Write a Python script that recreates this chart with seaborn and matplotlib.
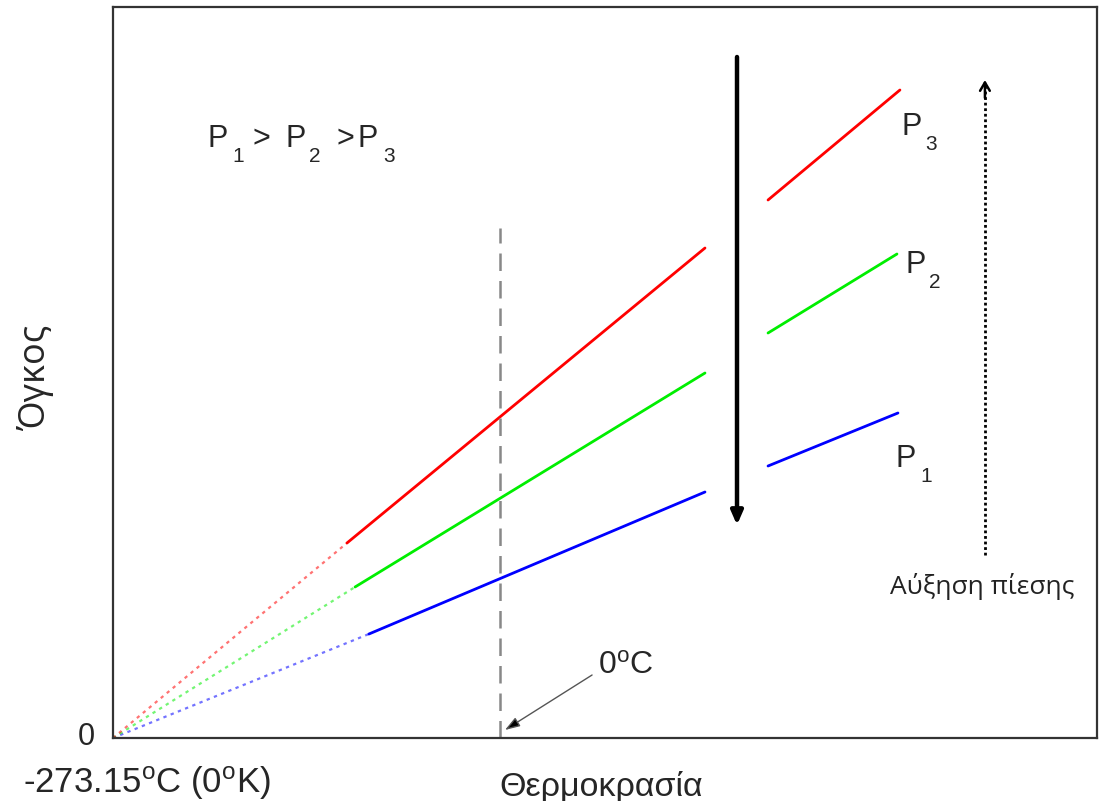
import matplotlib
matplotlib.use("Agg")
import matplotlib.pyplot as plt
import seaborn as sns
import pandas as pd

# ---- data (temperature in °C, volume in arbitrary units) ----
series = ["P1", "P2", "P3"]
colors = {"P1": "#0000ff", "P2": "#00ee00", "P3": "#ff0000"}
# dotted extrapolation: from absolute zero to start of measured range
T_extrap_end = {"P1": -92.5, "P2": -102.3, "P3": -108.0}
V_extrap_end = {"P1": 104, "P2": 151, "P3": 195}
# first solid segment
T_seg1 = {"P1": [-92.5, 144.7], "P2": [-102.3, 144.7], "P3": [-108.0, 144.7]}
V_seg1 = {"P1": [104, 246], "P2": [151, 365], "P3": [195, 490]}
# second solid segment
T_seg2 = {"P1": [189.2, 280.9], "P2": [189.2, 280.2], "P3": [189.2, 282.3]}
V_seg2 = {"P1": [272, 325], "P2": [405, 484], "P3": [538, 648]}
abs_zero = -273.15

sns.set_style("white")
plt.rcParams["font.family"] = ["Liberation Sans", "DejaVu Sans"]
plt.rcParams["mathtext.fontset"] = "custom"
plt.rcParams["mathtext.rm"] = "Liberation Sans"
plt.rcParams["mathtext.it"] = "Liberation Sans"

W, H = 1104, 801
fig = plt.figure(figsize=(W / 100, H / 100), dpi=100)
ax = fig.add_axes([113 / W, 63 / H, 984 / W, 731 / H])


def px(x, y):
    return x / W, 1 - y / H


rows = []
for s in series:
    rows.append(dict(s=s, seg="dot", T=abs_zero, V=0))
    rows.append(dict(s=s, seg="dot", T=T_extrap_end[s], V=V_extrap_end[s]))
    for t, v in zip(T_seg1[s], V_seg1[s]):
        rows.append(dict(s=s, seg="a", T=t, V=v))
    for t, v in zip(T_seg2[s], V_seg2[s]):
        rows.append(dict(s=s, seg="b", T=t, V=v))
df = pd.DataFrame(rows)

for s in series:
    d = df[(df.s == s) & (df.seg == "dot")]
    sns.lineplot(data=d, x="T", y="V", color=colors[s], lw=1.6, ls=(0, (1.5, 2.0)),
                 alpha=0.55, ax=ax, legend=False, estimator=None, sort=False)
    for seg in ["a", "b"]:
        d = df[(df.s == s) & (df.seg == seg)]
        sns.lineplot(data=d, x="T", y="V", color=colors[s], lw=2.0,
                     ax=ax, legend=False, estimator=None, sort=False)

ax.set_xlim(abs_zero, 421.4)
ax.set_ylim(0, 731)
ax.set_xticks([])
ax.set_yticks([])
ax.set_xlabel("")
ax.set_ylabel("")
for sp in ax.spines.values():
    sp.set_color("#333333")
    sp.set_linewidth(1.6)

# 0 °C dashed line
ax.plot([0, 0], [0, 510], color="#888888", lw=1.8, ls=(0, (7, 4)))

# big downward arrow
ax.annotate("", xy=(167.3, 213), xytext=(167.3, 681),
            arrowprops=dict(arrowstyle="-|>,head_length=0.8,head_width=0.35",
                            color="black", lw=3.2, shrinkA=0, shrinkB=0))
# dotted upward arrow
ax.plot([342.3, 342.3], [183, 652], color="black", lw=2.0, ls=(0, (1, 1)))
ax.annotate("", xy=(342.3, 658), xytext=(342.3, 640),
            arrowprops=dict(arrowstyle="->,head_length=0.6,head_width=0.35",
                            color="black", lw=1.8, shrinkA=0, shrinkB=0))

# 0°C annotation
ax.annotate("", xy=(3.5, 8), xytext=(65, 63),
            arrowprops=dict(arrowstyle="-|>,head_length=0.9,head_width=0.3",
                            color="#555555", lw=1.0, shrinkA=0, shrinkB=0,
                            fc="black"))
fig.text(*px(598, 674), r"0$\mathregular{^o}$C", fontsize=23, ha="left", va="baseline")

# pressure labels with subscripts
MAIN, SUB = 22, 15


def plabel(x, y, digit, dx=24, dy=15):
    fig.text(*px(x, y), "P", fontsize=MAIN, ha="left", va="baseline")
    fig.text(*px(x + dx, y + dy), digit, fontsize=SUB, ha="left", va="baseline")


plabel(208, 147, "1")
fig.text(*px(253, 147), ">", fontsize=MAIN, ha="left", va="baseline")
plabel(285, 147, "2")
fig.text(*px(336, 147), ">", fontsize=MAIN, ha="left", va="baseline")
plabel(357, 147, "3", dx=26)

plabel(901, 135, "3")
plabel(905, 273, "2")
plabel(896, 467, "1")

fig.text(*px(982, 594), "Αύξηση πίεσης", fontsize=19, ha="center",
         va="baseline", family=["Open Sans", "DejaVu Sans"], color="#222222")
fig.text(*px(35, 377), "Όγκος", fontsize=26, rotation=90,
         ha="center", va="center", family=["Open Sans", "DejaVu Sans"])
fig.text(*px(86, 745), "0", fontsize=22, ha="center", va="baseline")
fig.text(*px(147, 793), r"-273.15$\mathregular{^o}$C (0$\mathregular{^o}$K)",
         fontsize=25, ha="center", va="baseline")
fig.text(*px(601, 796), "Θερμοκρασία", fontsize=24.5, ha="center", va="baseline")

fig.savefig("out.png", dpi=100)
